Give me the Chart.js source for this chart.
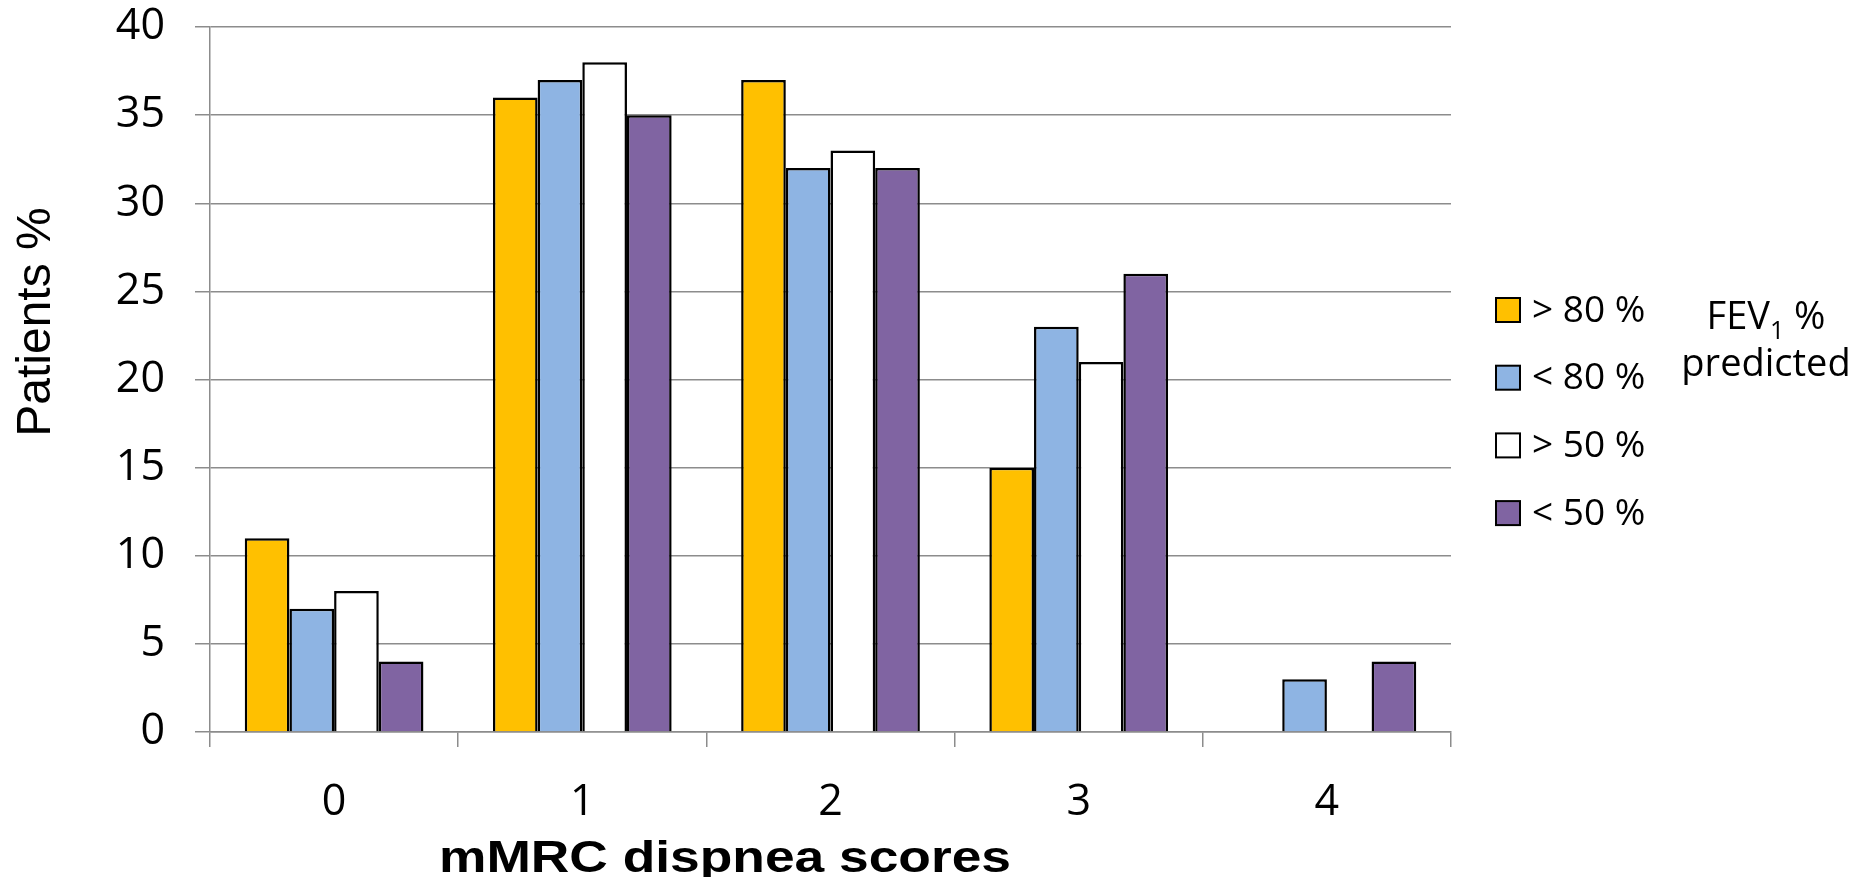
<!DOCTYPE html>
<html>
<head>
<meta charset="utf-8">
<title>mMRC dispnea scores</title>
<script src="https://cdn.jsdelivr.net/npm/chart.js@4.4.1/dist/chart.umd.min.js"></script>
<style>
    html, body { margin: 0; padding: 0; background: #ffffff; }
    #wrap { width: 1854px; height: 877px; }
</style>
</head>
<body>
<div id="wrap"><canvas id="chartjs-0" width="1854" height="877"></canvas></div>
<script>
"use strict";

/* chart data */
var categories = ["0", "1", "2", "3", "4"];
var seriesLabels = ["> 80 %", "< 80 %", "> 50 %", "< 50 %"];
var seriesColors = ["#FFC000", "#8EB4E3", "#FFFFFF", "#8064A2"];
var above80 = [11, 36, 37, 15, null];
var below80 = [7, 37, 32, 23, 3];
var above50 = [8, 38, 33, 21, null];
var below50 = [4, 35, 32, 26, 4];
var yTicks = [0, 5, 10, 15, 20, 25, 30, 35, 40];

var gridColor = "#8C8C8C";
var allSeries = [above80, below80, above50, below50];

var datasets = [];
for (var i = 0; i < allSeries.length; i++) {
    datasets.push({
        label: seriesLabels[i],
        data: allSeries[i],
        backgroundColor: seriesColors[i],
        borderColor: "#000000",
        borderWidth: 2.5,
        categoryPercentage: 0.72,
        barPercentage: 1.0
    });
}

/* Legend, legend note and axis titles are drawn by hand */
var extrasPlugin = {
    id: "extras",
    afterDraw: function (chart) {
        var ctx = chart.ctx;
        ctx.save();

        // legend boxes + labels
        ctx.font = "37px 'Open Sans'";
        ctx.textBaseline = "middle";
        ctx.textAlign = "left";
        for (var i = 0; i < chart.data.datasets.length; i++) {
            var ds = chart.data.datasets[i];
            var cy = 310 + i * 67.7;
            ctx.fillStyle = ds.backgroundColor;
            ctx.fillRect(1496, cy - 12, 24, 24);
            ctx.lineWidth = 2;
            ctx.strokeStyle = "#000000";
            ctx.strokeRect(1496, cy - 12, 24, 24);
            ctx.fillStyle = "#000000";
            ctx.fillText(ds.label, 1532, cy + 1);
        }

        // FEV1 % predicted
        ctx.textBaseline = "alphabetic";
        ctx.font = "38px 'Open Sans'";
        var w1 = ctx.measureText("FEV").width;
        ctx.font = "25px 'Open Sans'";
        var w2 = ctx.measureText("1").width;
        ctx.font = "38px 'Open Sans'";
        var w3 = ctx.measureText(" %").width;
        var startX = 1766 - (w1 + w2 + w3) / 2;
        ctx.fillText("FEV", startX, 329);
        ctx.font = "25px 'Open Sans'";
        ctx.fillText("1", startX + w1, 339);
        ctx.font = "38px 'Open Sans'";
        ctx.fillText(" %", startX + w1 + w2, 329);
        ctx.textAlign = "center";
        ctx.fillText("predicted", 1766, 376);

        // x axis title (slightly stretched like the original)
        ctx.font = "bold 45px 'Liberation Sans'";
        var tw = ctx.measureText("mMRC dispnea scores").width;
        ctx.save();
        ctx.translate(725, 872);
        ctx.scale(572 / tw, 1);
        ctx.textAlign = "center";
        ctx.fillText("mMRC dispnea scores", 0, 0);
        ctx.restore();

        // y axis title
        ctx.translate(50, 322);
        ctx.rotate(-Math.PI / 2);
        ctx.textAlign = "center";
        ctx.font = "48px 'Liberation Sans'";
        ctx.fillText("Patients %", 0, 0);

        ctx.restore();
    }
};

var ctx = document.getElementById("chartjs-0");

var myChart = new Chart(ctx, {
    type: "bar",
    data: {
        labels: categories,
        datasets: datasets
    },
    options: {
        responsive: false,
        animation: false,
        layout: {
            padding: { top: 27, right: 403, bottom: 0, left: 0 }
        },
        plugins: {
            legend: { display: false },
            tooltip: { enabled: false }
        },
        scales: {
            x: {
                offset: true,
                grid: {
                    offset: true,
                    drawOnChartArea: false,
                    drawTicks: true,
                    tickLength: 15,
                    color: gridColor,
                    lineWidth: 1.5
                },
                border: { display: true, color: gridColor, width: 1.5 },
                ticks: {
                    color: "#000000",
                    padding: 30,
                    font: { family: "'Open Sans'", size: 43 }
                },
                afterFit: function (scale) {
                    scale.height = 145;
                }
            },
            y: {
                min: 0,
                max: 40,
                afterBuildTicks: function (scale) {
                    scale.ticks = yTicks.map(function (v) { return { value: v }; });
                },
                grid: {
                    drawTicks: true,
                    tickLength: 15,
                    color: gridColor,
                    lineWidth: 1.5
                },
                border: { display: true, color: gridColor, width: 1.5 },
                ticks: {
                    color: "#000000",
                    padding: 30,
                    font: { family: "'Open Sans'", size: 43 }
                },
                afterFit: function (scale) {
                    // fixed width, and no extra room above the top label
                    scale.width = 210;
                    scale.paddingTop = 0;
                    scale.paddingBottom = 0;
                }
            }
        }
    },
    plugins: [extrasPlugin]
});
</script>
</body>
</html>
